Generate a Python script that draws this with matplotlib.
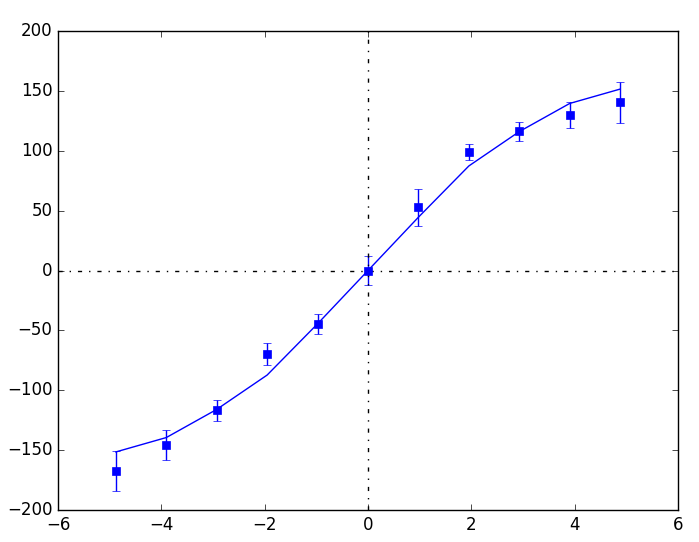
import matplotlib
matplotlib.use("Agg")
import matplotlib.pyplot as plt

plt.style.use("classic")

x = [-4.88, -3.904, -2.928, -1.952, -0.976, 0.0, 0.976, 1.952, 2.928, 3.904, 4.88]
y_obs = [-167.4, -145.7, -116.8, -69.7, -44.7, 0.0, 52.8, 99.0, 116.2, 129.9, 140.5]
y_err = [16.5, 12.4, 9.0, 9.5, 8.6, 12.5, 15.3, 7.0, 7.8, 11.0, 17.3]
y_fit = [-151.5, -139.5, -116.0, -87.3, -44.5, 0.0, 44.5, 87.3, 116.0, 139.5, 151.5]

fig = plt.figure(figsize=(6.99, 5.42), dpi=100, facecolor="white")
ax = fig.add_axes([58/699, 1-510/542, 620/699, 479/542])

ax.plot(x, y_fit, color="blue", linewidth=1)
ax.errorbar(x, y_obs, yerr=y_err, fmt="s", color="blue", markersize=6,
            markeredgecolor="blue", capsize=3, elinewidth=1)
ax.axhline(0, color="black", linestyle="-.", linewidth=1)
ax.axvline(0, color="black", linestyle="-.", linewidth=1)

ax.set_xlim(-6, 6)
ax.set_ylim(-200, 200)
ax.set_xticks([-6, -4, -2, 0, 2, 4, 6])
ax.set_yticks([-200, -150, -100, -50, 0, 50, 100, 150, 200])

fig.savefig("out.png", dpi=100, facecolor="white")
